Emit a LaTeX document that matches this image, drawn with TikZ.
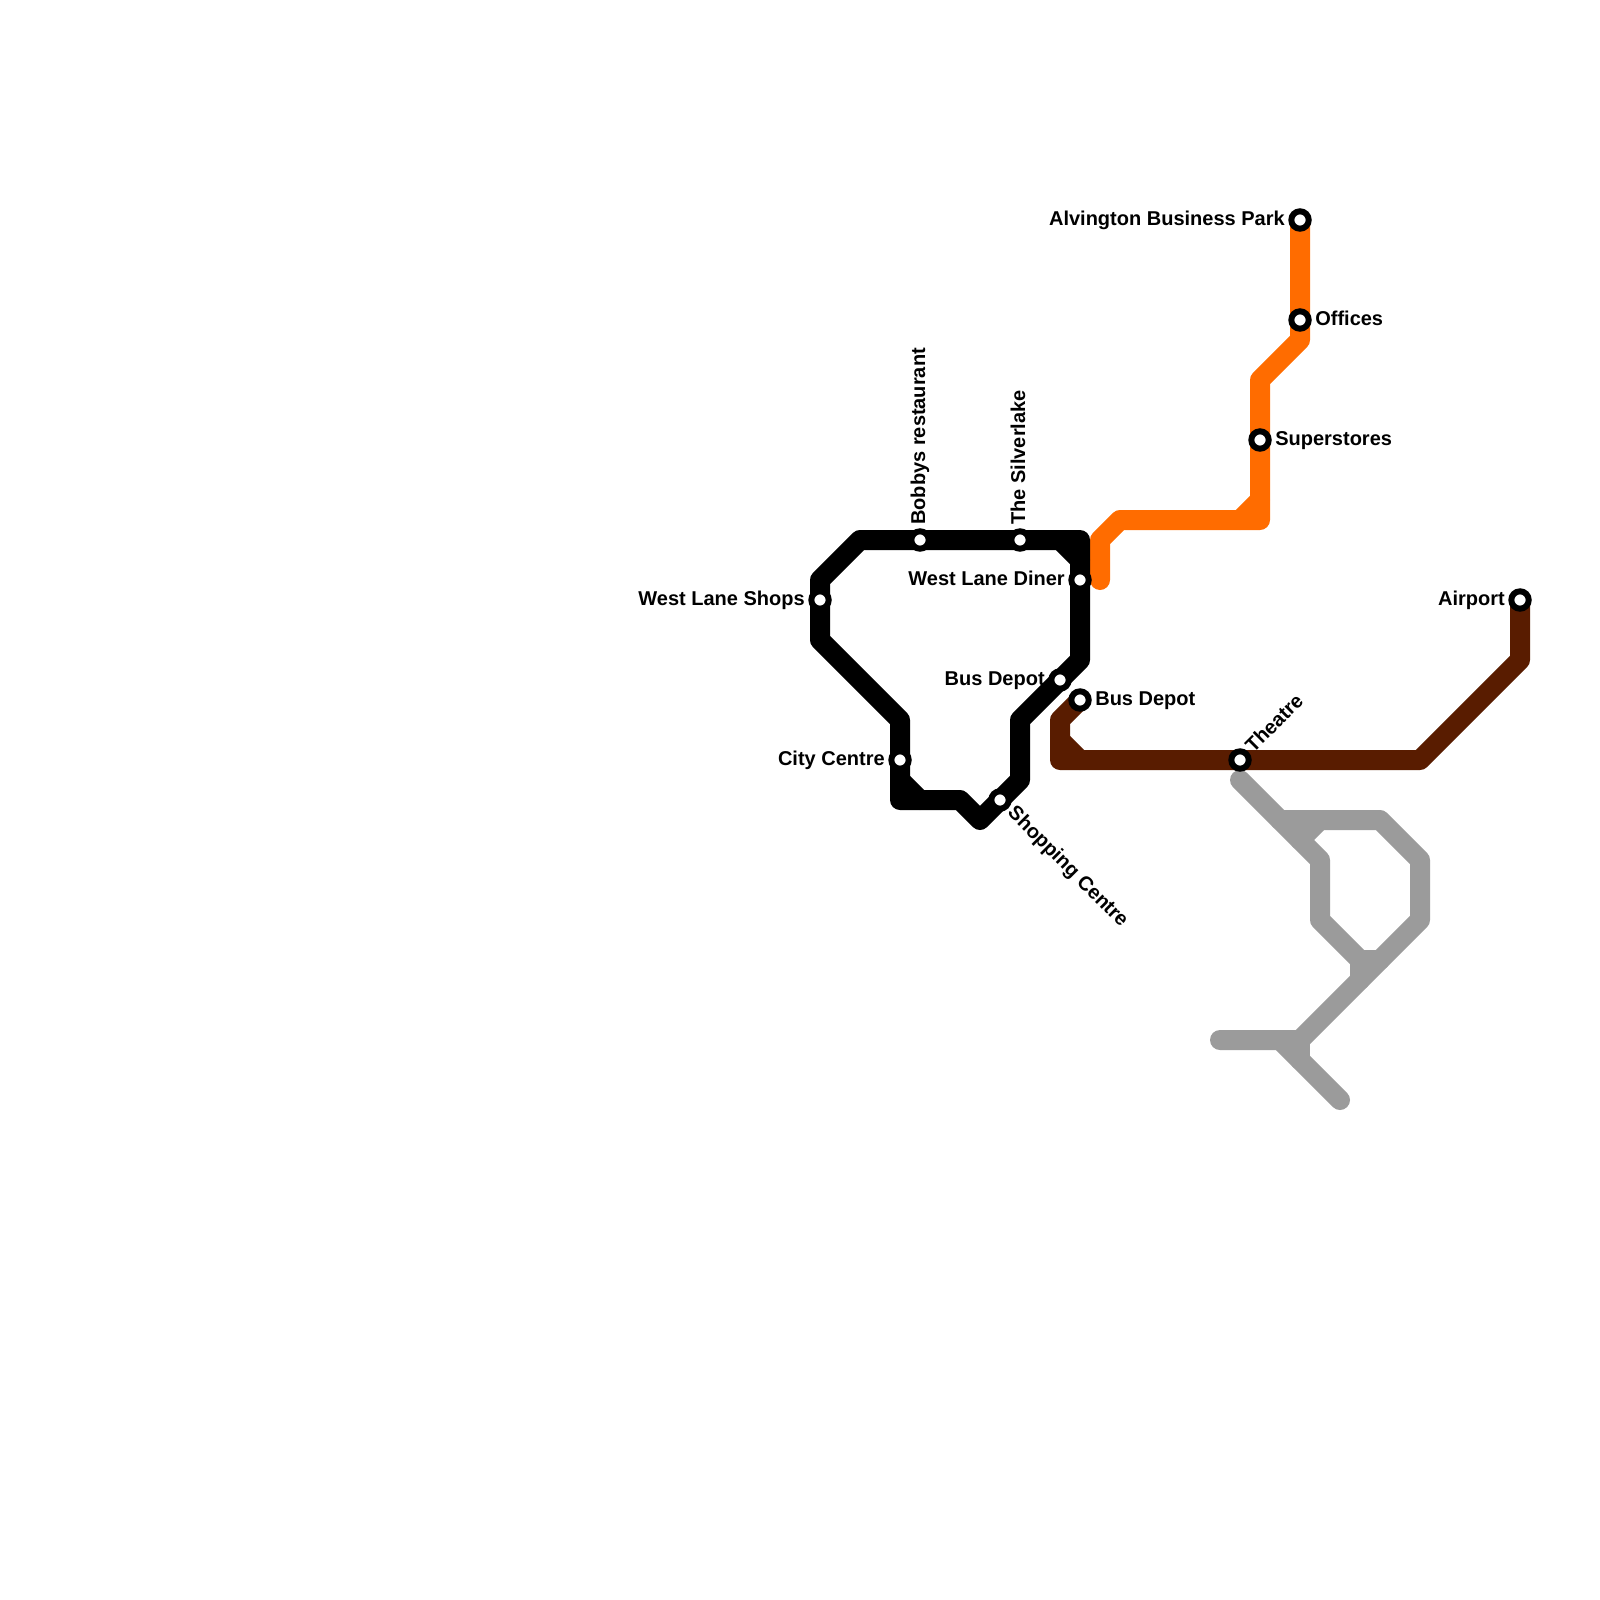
\documentclass[tikz,border=0pt]{standalone}
\usepackage{fontspec}
\setmainfont{Liberation Sans}
\usepackage{xcolor}
\usetikzlibrary{positioning, backgrounds}
\definecolor{linegray}{RGB}{155, 155, 155}
\definecolor{linebrown}{RGB}{89, 28, 0}
\definecolor{lineorange}{RGB}{255, 108, 0}

\begin{document}
\begin{tikzpicture}[
    x=0.5pt, y=-0.5pt,
    node distance=1.6pt,
    stop/.style={circle, draw=black, fill=white, line width=3pt, minimum size=8.7pt, inner sep=0pt},
    stoplabel/.style={inner sep=0pt, text height=8pt, text depth=3pt, font=\bfseries\fontsize{10}{12}\selectfont},
    route/.style={line width=10pt, line cap=round, line join=round}
]
\useasboundingbox (0,0) rectangle (1600,1600);

% Stations on the black line
\node[stop] (shops) at (820,600) {};
\node[stop] (bobbys) at (920,540) {};
\node[stop] (silverlake) at (1020,540) {};
\node[stop] (diner) at (1080,580) {};
\node[stop] (depota) at (1060,680) {};
\node[stop] (centre) at (900,760) {};
\node[stop] (shopping) at (1000,800) {};

% Stations on the brown line
\node[stop] (depotb) at (1080,700) {};
\node[stop] (theatre) at (1240,760) {};
\node[stop] (airport) at (1520,600) {};

% Stations on the orange line
\node[stop] (alvington) at (1300,220) {};
\node[stop] (offices) at (1300,320) {};
\node[stop] (superstores) at (1260,440) {};

% Labels
\node[stoplabel, left=of shops] (shopsname) {West Lane Shops};
\node[stoplabel, above=of bobbys, anchor=west, rotate=90] (bobbysname) {Bobbys restaurant};
\node[stoplabel, above=of silverlake, anchor=west, rotate=90] (silverlakename) {The Silverlake};
\node[stoplabel, left=of diner] (dinername) {West Lane Diner};
\node[stoplabel, left=of depota] (depotaname) {Bus Depot};
\node[stoplabel, left=of centre] (centrename) {City Centre};
\node[stoplabel, below right=1.3pt of shopping, anchor=west, rotate=-45] (shoppingname) {Shopping Centre};
\node[stoplabel, right=of depotb] (depotbname) {Bus Depot};
\node[stoplabel, above right=1pt of theatre, anchor=west, rotate=45] (theatrename) {Theatre};
\node[stoplabel, left=of airport] (airportname) {Airport};
\node[stoplabel, left=of alvington] (alvingtonname) {Alvington Business Park};
\node[stoplabel, right=of offices] (officesname) {Offices};
\node[stoplabel, right=of superstores] (superstoresname) {Superstores};

% Bends of the black line
\coordinate (ba) at (820,580);
\coordinate (bb) at (860,540);
\coordinate (bc) at (1080,540);
\coordinate (bd) at (1080,660);
\coordinate (be) at (1020,720);
\coordinate (bf) at (1020,780);
\coordinate (bg) at (980,820);
\coordinate (bh) at (960,800);
\coordinate (bi) at (900,800);
\coordinate (bj) at (900,720);
\coordinate (bk) at (820,640);
\coordinate (bl) at (1060,540);
\coordinate (bm) at (1080,560);
\coordinate (bn) at (900,780);
\coordinate (bo) at (920,800);

% Bends of the brown line
\coordinate (ra) at (1060,720);
\coordinate (rb) at (1060,760);
\coordinate (rc) at (1420,760);
\coordinate (rd) at (1520,660);
\coordinate (re) at (1060,740);
\coordinate (rf) at (1080,760);

% Bends of the orange line
\coordinate (oa) at (1300,340);
\coordinate (ob) at (1260,380);
\coordinate (oc) at (1260,520);
\coordinate (od) at (1120,520);
\coordinate (oe) at (1100,540);
\coordinate (of) at (1100,580);
\coordinate (og) at (1240,520);
\coordinate (oh) at (1260,500);

% Bends of the gray line
\coordinate (ga) at (1240,780);
\coordinate (gb) at (1320,860);
\coordinate (gc) at (1320,920);
\coordinate (gd) at (1360,960);
\coordinate (ge) at (1380,960);
\coordinate (gf) at (1360,980);
\coordinate (gg) at (1280,820);
\coordinate (gh) at (1380,820);
\coordinate (gi) at (1420,860);
\coordinate (gj) at (1420,920);
\coordinate (gk) at (1300,1040);
\coordinate (gl) at (1220,1040);
\coordinate (gm) at (1300,1060);
\coordinate (gn) at (1280,1040);
\coordinate (go) at (1340,1100);
\coordinate (gp) at (1300,840);
\coordinate (gq) at (1320,820);

% Lines
\begin{scope}[on background layer]
\draw[route, linegray] (ga) -- (gb) -- (gc) -- (gd) -- (ge);
\draw[route, linegray] (gd) -- (gf);
\draw[route, linegray] (gg) -- (gh) -- (gi) -- (gj) -- (gk) -- (gl);
\draw[route, linegray] (gk) -- (gm);
\draw[route, linegray] (gn) -- (go);
\draw[route, linegray] (gp) -- (gq);

\draw[route, linebrown] (depotb.center) -- (ra) -- (rb) -- (rc) -- (rd) -- (airport.center);
\draw[route, linebrown] (re) -- (rf);

\draw[route, lineorange] (alvington.center) -- (oa) -- (ob) -- (oc) -- (od) -- (oe) -- (of);
\draw[route, lineorange] (og) -- (oh);

\draw[route, black] (ba) -- (bb) -- (bc) -- (bd) -- (be) -- (bf) -- (bg) -- (bh) -- (bi) -- (bj) -- (bk) -- cycle;
\draw[route, black] (bl) -- (bm);
\draw[route, black] (bn) -- (bo);
\end{scope}

\end{tikzpicture}
\end{document}
